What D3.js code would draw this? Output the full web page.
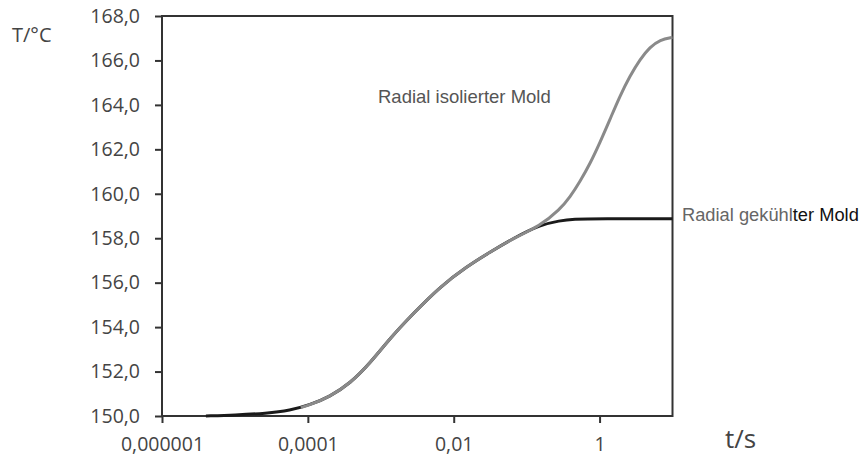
<!DOCTYPE html>
<html>
<head>
<meta charset="utf-8">
<script src="https://cdn.jsdelivr.net/npm/d3@7"></script>
<style>
  body { margin: 0; background: #fff; }
  svg { display: block; }
</style>
</head>
<body>
<div id="chart"></div>
<script>

// time in s (log axis), temperature in °C
var cooledTime = [4e-6, 1e-5, 2.7e-5, 5.7e-5, 1.07e-4, 2.0e-4, 3.8e-4, 7.1e-4, 1.34e-3, 2.8e-3, 6.5e-3, 1.5e-2, 3.2e-2, 6.6e-2, 0.152, 0.286, 0.43, 1, 10];
var cooledTemp = [150.0, 150.04, 150.12, 150.25, 150.5, 150.87, 151.47, 152.37, 153.5, 154.62, 155.82, 156.72, 157.39, 158.0, 158.6, 158.79, 158.86, 158.88, 158.88];

var insulatedTime = [8e-5, 1.07e-4, 2.0e-4, 3.8e-4, 7.1e-4, 1.34e-3, 2.8e-3, 6.5e-3, 1.5e-2, 3.2e-2, 6.6e-2, 0.152, 0.286, 0.393, 0.538, 0.739, 1.01, 1.39, 1.9, 2.61, 3.58, 4.91, 6.73, 10];
var insulatedTemp = [150.38, 150.5, 150.87, 151.47, 152.37, 153.5, 154.62, 155.82, 156.72, 157.39, 158.0, 158.55, 159.3, 159.85, 160.55, 161.35, 162.3, 163.35, 164.4, 165.3, 166.05, 166.6, 166.93, 167.04];

var xTicks = [1e-6, 1e-4, 1e-2, 1];
var xTickLabels = ["0,000001", "0,0001", "0,01", "1"];
var yTicks = [150, 152, 154, 156, 158, 160, 162, 164, 166, 168];

var margin = {top: 16, right: 189.5, bottom: 48, left: 162},
    width = 862 - margin.left - margin.right,
    height = 464 - margin.top - margin.bottom;

var svg = d3.select("#chart").append("svg")
    .attr("width", 862)
    .attr("height", 464);

var g = svg.append("g")
    .attr("transform", "translate(" + margin.left + "," + margin.top + ")");

var x = d3.scaleLog().domain([1e-6, 10]).range([0, width]);
var y = d3.scaleLinear().domain([150, 168]).range([height, 0]);

var tickFont = "'Open Sans', sans-serif";

// y axis
var yAxis = g.append("g")
    .call(d3.axisLeft(y).tickValues(yTicks).tickSize(7).tickPadding(15)
        .tickFormat(function(d){ return d3.format(".1f")(d).replace(".", ","); }));
yAxis.select(".domain").remove();
yAxis.selectAll("line").attr("stroke", "#333").attr("stroke-width", 2);
yAxis.selectAll("text")
    .style("font-family", tickFont).style("font-size", "19.5px").attr("fill", "#444");

// x axis
var xAxis = g.append("g")
    .attr("transform", "translate(0," + height + ")")
    .call(d3.axisBottom(x).tickValues(xTicks).tickSize(7).tickPadding(14)
        .tickFormat(function(d, i){ return xTickLabels[i]; }));
xAxis.select(".domain").remove();
xAxis.selectAll("line").attr("stroke", "#333").attr("stroke-width", 2);
xAxis.selectAll("text")
    .style("font-family", tickFont).style("font-size", "19.5px").attr("fill", "#444");

// frame
g.append("rect")
    .attr("width", width)
    .attr("height", height)
    .attr("fill", "none")
    .attr("stroke", "#333")
    .attr("stroke-width", 2);

// smooth spline through the read-off points
var line = d3.line()
    .x(function(d){ return x(d[0]); })
    .y(function(d){ return y(d[1]); })
    .curve(d3.curveBasis);

g.append("path")
    .datum(d3.zip(cooledTime, cooledTemp))
    .attr("d", line)
    .attr("fill", "none")
    .attr("stroke", "#1a1a1a")
    .attr("stroke-width", 3);

g.append("path")
    .datum(d3.zip(insulatedTime, insulatedTemp))
    .attr("d", line)
    .attr("fill", "none")
    .attr("stroke", "#8a8a8a")
    .attr("stroke-width", 3);

// axis titles
svg.append("text")
    .attr("x", 12).attr("y", 42)
    .style("font-family", tickFont).style("font-size", "20px")
    .attr("fill", "#444")
    .text("T/°C");

svg.append("text")
    .attr("x", 725).attr("y", 448)
    .style("font-family", tickFont).style("font-size", "26px")
    .attr("fill", "#444")
    .text("t/s");

// curve labels
svg.append("text")
    .attr("x", 378).attr("y", 103)
    .style("font-family", "'Liberation Sans', Arial, sans-serif").style("font-size", "18.5px")
    .attr("fill", "#555")
    .text("Radial isolierter Mold");

var lab2 = svg.append("text")
    .attr("x", 682).attr("y", 221)
    .style("font-family", "'Liberation Sans', Arial, sans-serif").style("font-size", "18.3px");
lab2.append("tspan").attr("fill", "#666").text("Radial gekühl");
lab2.append("tspan").attr("fill", "#111").text("ter Mold");

</script>
</body>
</html>
